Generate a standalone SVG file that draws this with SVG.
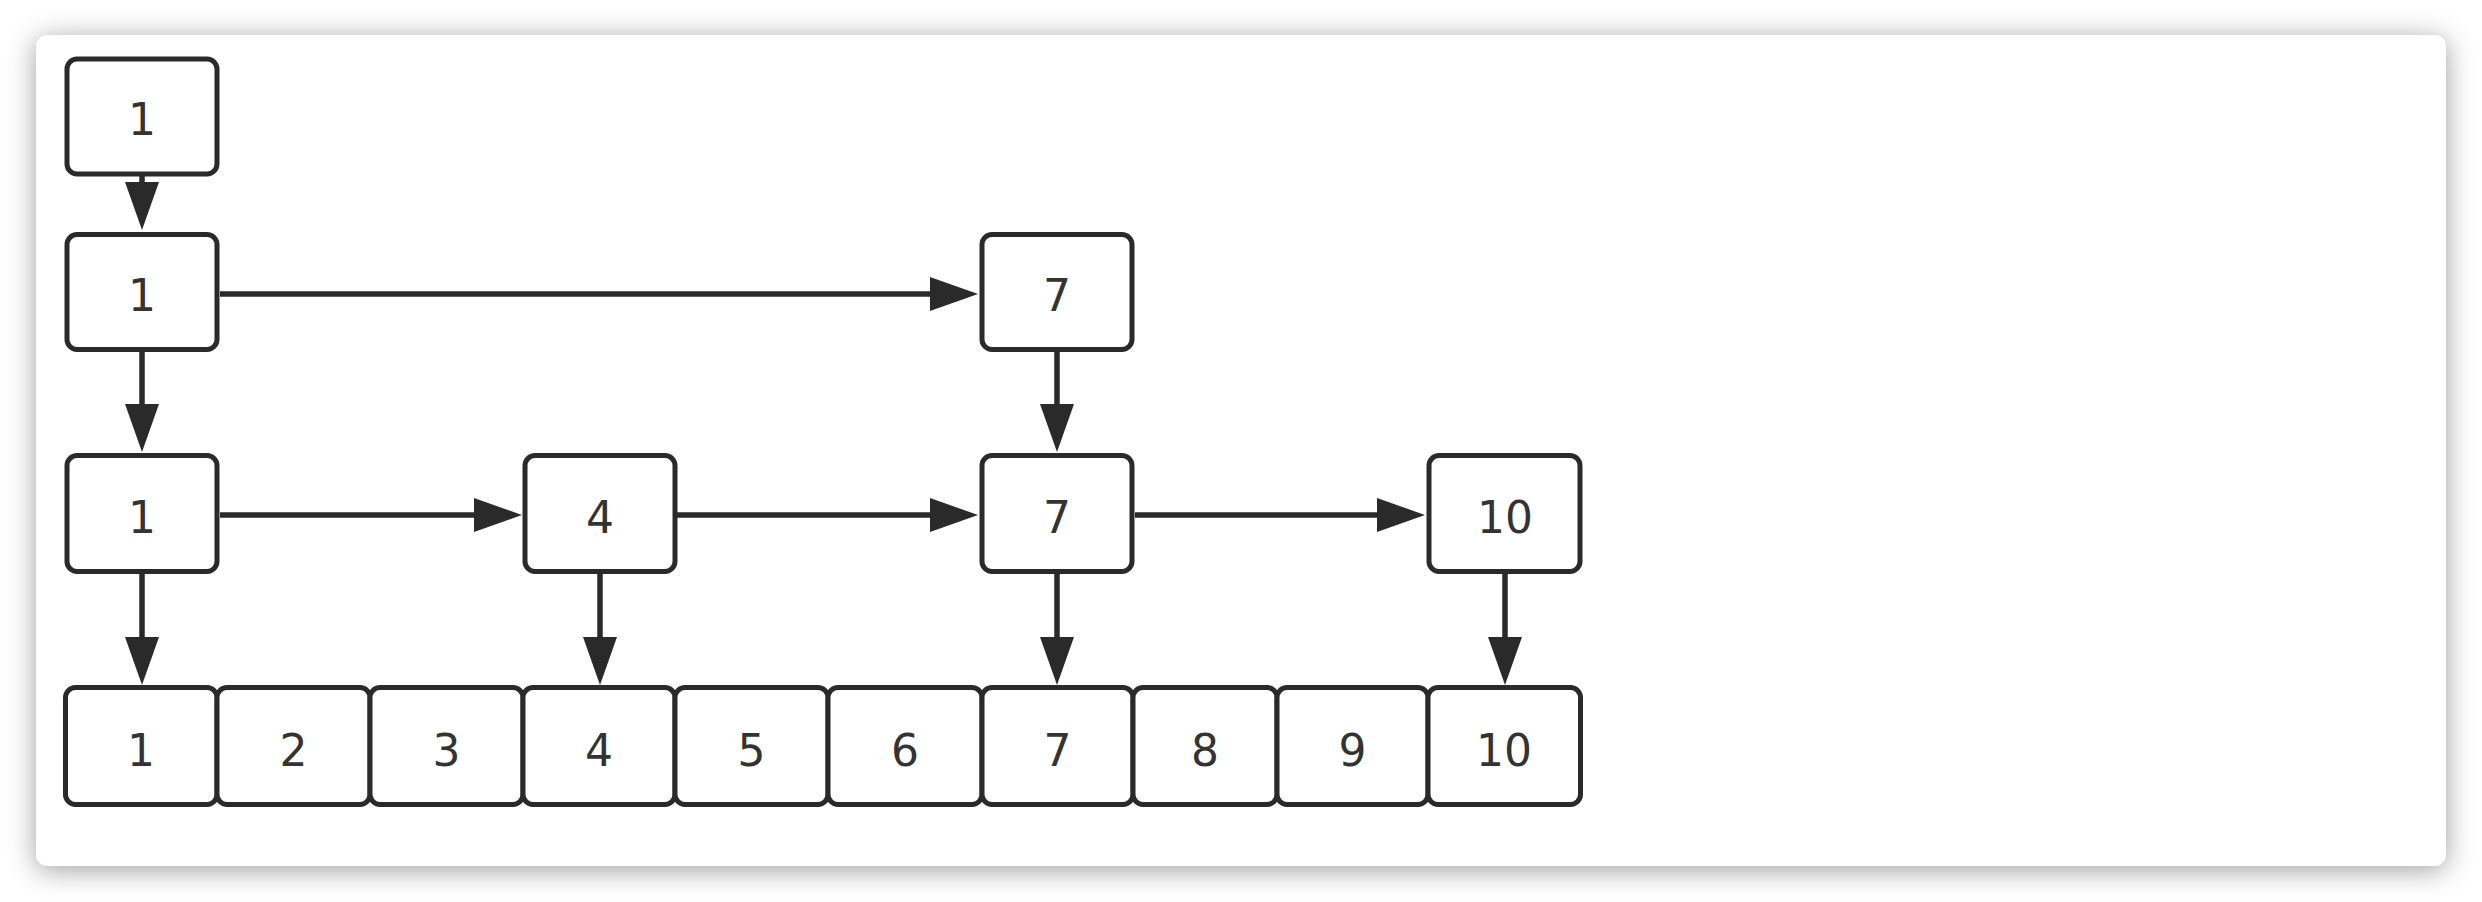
<svg xmlns="http://www.w3.org/2000/svg" width="2482" height="902" viewBox="0 0 2482 902">
<style>
.box{fill:#fff;stroke:#2a2a2a;stroke-width:5}
.lbl{font-family:"DejaVu Sans","Liberation Sans",sans-serif;font-size:44px;fill:#333;text-anchor:middle}
.edge{fill:none;stroke:#2a2a2a;stroke-width:5.5;marker-end:url(#arr)}
</style>
<defs>
<filter id="sh" x="-5%" y="-10%" width="110%" height="120%">
<feDropShadow dx="0" dy="4" stdDeviation="14" flood-color="#000" flood-opacity="0.38"/>
</filter>
<marker id="arr" viewBox="0 0 48 34" refX="4" refY="17" markerWidth="48" markerHeight="34" markerUnits="userSpaceOnUse" orient="auto">
<path d="M0,0 L48,17 L0,34 Z" fill="#2a2a2a"/>
</marker>
</defs>
<rect width="2482" height="902" fill="#fff"/>
<rect x="36" y="35" width="2410" height="831" rx="12" fill="#fff" filter="url(#sh)"/>

<g id="connectors">
<path class="edge" d="M142,176 V186"/>
<path class="edge" d="M220,294 H934"/>
<path class="edge" d="M142,352 V408"/>
<path class="edge" d="M1057,352 V408"/>
<path class="edge" d="M220,515 H478"/>
<path class="edge" d="M676,515 H934"/>
<path class="edge" d="M1135,515 H1381"/>
<path class="edge" d="M142,574 V641"/>
<path class="edge" d="M600,574 V641"/>
<path class="edge" d="M1057,574 V641"/>
<path class="edge" d="M1505,574 V641"/>
</g>

<g id="n-l1-1"><rect class="box" x="67" y="59" width="150" height="115" rx="10"/><text class="lbl" x="142" y="135">1</text></g>
<g id="n-l2-1"><rect class="box" x="67" y="234.5" width="150" height="115" rx="10"/><text class="lbl" x="142" y="311">1</text></g>
<g id="n-l2-7"><rect class="box" x="982" y="234.5" width="150" height="115" rx="10"/><text class="lbl" x="1057" y="311">7</text></g>
<g id="n-l3-1"><rect class="box" x="67" y="455.5" width="150" height="116" rx="10"/><text class="lbl" x="142" y="533">1</text></g>
<g id="n-l3-4"><rect class="box" x="525" y="455.5" width="150" height="116" rx="10"/><text class="lbl" x="600" y="533">4</text></g>
<g id="n-l3-7"><rect class="box" x="982" y="455.5" width="150" height="116" rx="10"/><text class="lbl" x="1057" y="533">7</text></g>
<g id="n-l3-10"><rect class="box" x="1429" y="455.5" width="151" height="116" rx="10"/><text class="lbl" x="1505" y="533">10</text></g>

<g id="b1"><rect class="box" x="65.5" y="687.5" width="151.5" height="117" rx="10"/><text class="lbl" x="141" y="766">1</text></g>
<g id="b2"><rect class="box" x="217" y="687.5" width="153" height="117" rx="10"/><text class="lbl" x="293.5" y="766">2</text></g>
<g id="b3"><rect class="box" x="370" y="687.5" width="153" height="117" rx="10"/><text class="lbl" x="446.5" y="766">3</text></g>
<g id="b4"><rect class="box" x="523" y="687.5" width="152" height="117" rx="10"/><text class="lbl" x="599" y="766">4</text></g>
<g id="b5"><rect class="box" x="675" y="687.5" width="153" height="117" rx="10"/><text class="lbl" x="751.5" y="766">5</text></g>
<g id="b6"><rect class="box" x="828" y="687.5" width="154" height="117" rx="10"/><text class="lbl" x="905" y="766">6</text></g>
<g id="b7"><rect class="box" x="982" y="687.5" width="151" height="117" rx="10"/><text class="lbl" x="1057.5" y="766">7</text></g>
<g id="b8"><rect class="box" x="1133" y="687.5" width="144" height="117" rx="10"/><text class="lbl" x="1205" y="766">8</text></g>
<g id="b9"><rect class="box" x="1277" y="687.5" width="151" height="117" rx="10"/><text class="lbl" x="1352.5" y="766">9</text></g>
<g id="b10"><rect class="box" x="1428" y="687.5" width="152.5" height="117" rx="10"/><text class="lbl" x="1504" y="766">10</text></g>
</svg>
